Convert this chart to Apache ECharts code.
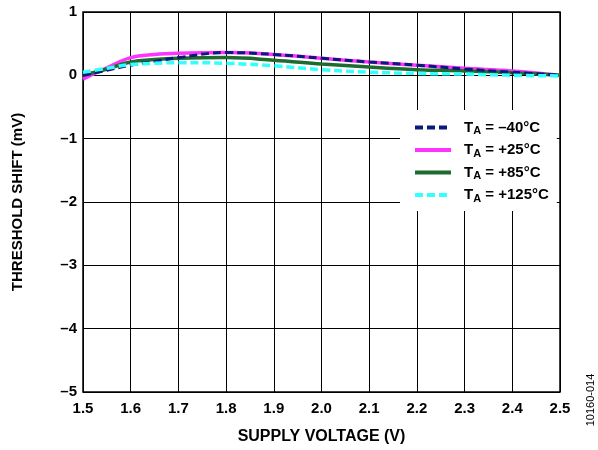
<!DOCTYPE html>
<html><head><meta charset="utf-8">
<script src="https://cdn.jsdelivr.net/npm/echarts@6/dist/echarts.min.js"></script>
<style>html,body{margin:0;padding:0;background:#fff}#c{width:598px;height:450px}</style>
</head><body><div id="c"></div>
<script>
const voltage = [1.5, 1.55, 1.6, 1.65, 1.7, 1.8, 1.9, 2.0, 2.1, 2.2, 2.3, 2.4, 2.5];
const tm40  = [0.00, 0.08, 0.16, 0.22, 0.28, 0.36, 0.33, 0.27, 0.21, 0.16, 0.10, 0.05, 0.00];
const t25   = [-0.06, 0.12, 0.28, 0.33, 0.35, 0.36, 0.33, 0.27, 0.21, 0.16, 0.11, 0.07, 0.00];
const t85   = [0.00, 0.10, 0.21, 0.25, 0.27, 0.28, 0.24, 0.18, 0.13, 0.09, 0.07, 0.04, 0.00];
const t125  = [0.05, 0.11, 0.17, 0.19, 0.20, 0.19, 0.15, 0.09, 0.05, 0.03, 0.02, 0.00, -0.01];
const seriesNames = ['-40', '+25', '+85', '+125'];
const legendLabels = {'-40': ' = \u201340°C', '+25': ' = +25°C', '+85': ' = +85°C', '+125': ' = +125°C'};
const yTickLabels = {'1':'1','0':'0','-1':'\u20131','-2':'\u20132','-3':'\u20133','-4':'\u20134','-5':'\u20135'};

const pair = arr => voltage.map((v, i) => [v, arr[i]]);
const font = 'Liberation Sans, Arial, sans-serif';
const chart = echarts.init(document.getElementById('c'));
chart.setOption({
  animation: false,
  backgroundColor: '#fff',
  grid: {left: 83, right: 38, top: 12, bottom: 54, show: true, borderColor: '#000', borderWidth: 1.5},
  xAxis: {
    type: 'value', min: 1.5, max: 2.5, interval: 0.1,
    axisLine: {show: false}, axisTick: {show: false},
    splitLine: {show: true, lineStyle: {color: '#000', width: 1}},
    axisLabel: {color: '#000', fontFamily: font, fontWeight: 'bold', fontSize: 15, margin: 9,
      formatter: v => v.toFixed(1)},
    name: 'SUPPLY VOLTAGE (V)', nameLocation: 'middle', nameGap: 37,
    nameTextStyle: {color: '#000', fontFamily: font, fontWeight: 'bold', fontSize: 16}
  },
  yAxis: {
    type: 'value', min: -5, max: 1, interval: 1,
    axisLine: {show: false}, axisTick: {show: false},
    splitLine: {show: true, lineStyle: {color: '#000', width: 1}},
    axisLabel: {color: '#000', fontFamily: font, fontWeight: 'bold', fontSize: 15, margin: 6,
      formatter: v => yTickLabels[String(v)]},
    name: 'THRESHOLD SHIFT (mV)', nameLocation: 'middle', nameGap: 58, nameRotate: 90,
    nameTextStyle: {color: '#000', fontFamily: font, fontWeight: 'bold', fontSize: 15}
  },
  legend: {
    orient: 'vertical', left: 400, top: 110, itemGap: 6, itemWidth: 36, itemHeight: 14,
    padding: [10, 8, 7, 13], backgroundColor: '#fff', borderWidth: 0,
    itemStyle: {opacity: 0},
    lineStyle: {width: 4},
    data: seriesNames,
    formatter: n => '{f|T}{s|A}{t|' + legendLabels[n] + '}',
    textStyle: {color: '#000', fontFamily: font, fontWeight: 'bold', fontSize: 15,
      rich: {f: {fontFamily: font, fontWeight: 'bold', fontSize: 15, color: '#000', padding: [0, 0, 0, 8]},
             t: {fontFamily: font, fontWeight: 'bold', fontSize: 15, color: '#000'},
             s: {fontFamily: font, fontWeight: 'bold', fontSize: 11, color: '#000', padding: [7, 0, 0, 0]}}}
  },
  graphic: [{type: 'text', x: 591, y: 400, rotation: Math.PI / 2,
    style: {text: '10160-014', fill: '#000', font: '11px ' + font, align: 'center', verticalAlign: 'middle'}}],
  series: [
    {name: '+25', type: 'line', data: pair(t25), smooth: 0.4, symbol: 'none', z: 2,
      lineStyle: {color: '#ff33ff', width: 3.5}, itemStyle: {color: '#ff33ff'}},
    {name: '+85', type: 'line', data: pair(t85), smooth: 0.4, symbol: 'none', z: 3,
      lineStyle: {color: '#1e6b30', width: 3.5}, itemStyle: {color: '#1e6b30'}},
    {name: '-40', type: 'line', data: pair(tm40), smooth: 0.4, symbol: 'none', z: 4,
      lineStyle: {color: '#0a1a7a', width: 3, type: [8, 4]}, itemStyle: {color: '#0a1a7a'}},
    {name: '+125', type: 'line', data: pair(t125), smooth: 0.4, symbol: 'none', z: 5,
      lineStyle: {color: '#33ffff', width: 3.5, type: [8, 4]}, itemStyle: {color: '#33ffff'}}
  ]
});
</script></body></html>
